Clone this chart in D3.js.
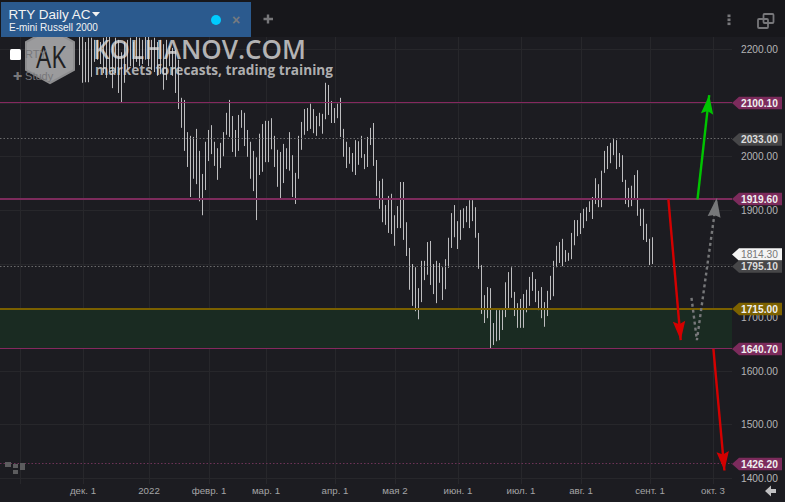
<!DOCTYPE html>
<html><head><meta charset="utf-8">
<script src="https://cdn.jsdelivr.net/npm/d3@7"></script>
<style>html,body{margin:0;padding:0;background:#1c1c21;overflow:hidden}svg{display:block;font-family:"Liberation Sans",Arial,sans-serif}</style>
</head><body><svg id="c" width="785" height="502"></svg>
<script>
const highs=[2235,2235,2213,2221,2221,2217,2217,2213,2221,2224,2228,2208,2221,2217,2194,2213,2217,2221,2213,2224,2221,2217,2228,2224,2217,2221,2213,2217,2209,2217,2206,2202,2198,2180,
2109,2105,2045,2038,2036,2051,2010,1967,2027,2049,2058,2027,2015,2025,2045,2081,2105,2075,2049,2077,2086,2081,2049,2027,2010,1998,2042,2060,2066,2066,2071,2038,2012,2008,2023,2015,2045,2002,1969,2038,2064,2088,2090,2098,2088,2075,2081,2079,2137,2133,2103,2090,2098,2109,2051,2027,2017,2006,2030,2028,2038,2004,2036,2053,2062,1993,
1954,1958,1909,1926,1930,1890,1907,1952,1952,1877,1829,1799,1793,1754,1805,1805,1840,1842,1799,1805,1801,1793,1808,1848,1894,1909,1879,1900,1903,1907,1918,1918,1905,1857,1797,1741,1756,1754,1689,1713,1713,1713,1765,1784,1793,1747,1726,1734,1743,1751,1775,1784,1771,1749,1756,1728,1749,1777,1805,1833,
1840,1846,1825,1820,1857,1881,1881,1894,1902,1905,1916,1924,1959,1948,1973,2010,2019,2025,2032,2030,2006,2002,1956,1941,1945,1965,1974,1902,1902,1874,1846,1849];
const lows=[2170,2137,2138,2138,2148,2176,2180,2172,2155,2146,2157,2127,2155,2118,2101,2137,2161,2168,2165,2176,2168,2172,2180,2168,2161,2157,2150,2153,2124,2142,2168,2150,2118,2088,
2053,2010,1980,1924,1958,1948,1916,1890,1937,1991,2004,1982,1956,1978,2000,2040,2036,2008,1999,2010,2053,2019,1999,1958,1935,1881,1965,1971,1989,1989,2013,1980,1943,1922,1950,1976,1973,1924,1911,1958,2012,2040,2047,2051,2043,2038,2056,2042,2069,2077,2062,2062,2071,2036,1999,1978,1986,1971,1965,1984,1997,1976,1980,2021,1982,1926,
1902,1877,1872,1857,1855,1833,1866,1866,1844,1814,1751,1721,1711,1696,1728,1769,1779,1760,1743,1726,1764,1732,1752,1792,1829,1849,1827,1844,1866,1877,1866,1879,1848,1790,1706,1689,1698,1642,1648,1655,1657,1676,1700,1717,1736,1702,1680,1680,1680,1709,1721,1749,1728,1713,1698,1682,1702,1732,1739,1793,
1801,1795,1803,1805,1808,1834,1851,1855,1866,1879,1896,1883,1911,1905,1905,1969,1976,1987,2002,1976,1980,1952,1911,1905,1907,1920,1889,1870,1844,1840,1797,1799];

const priceTicks=[2200,2100,2000,1900,1800,1700,1600,1500,1400];
const hiddenPriceLabels=[2100,1800];
const dateIdx=[-20,1,23,43,62,85,105,126,147,167,190,211];
const dateLabels=["","дек. 1","2022","февр. 1","мар. 1","апр. 1","мая 2","июн. 1","июл. 1","авг. 1","сент. 1","окт. 3"];

const thinLevels=[2100.1,1640.7];
const thickLevel=1919.6;
const dottedLevels=[2033,1795.1];
const purpleDotted=[1426.2];
const zoneTop=1715, zoneBottom=1640.7;

const flagValues=[2100.1,2033,1919.6,1814.3,1795.1,1715,1640.7,1426.2];
const flagKinds=["p","g","p","w","g","o","p","p"];

const greenArrow=[[206,1919.6],[209.9,2114]];
const redArrowA=[[196.3,1919.6],[200.4,1657]];
const redArrowB=[[211.3,1640.7],[214.97,1414]];
const grayPath=[[204,1736],[205.8,1657],[212.4,1922]];

const W=785,H=502,plotR=732,plotTop=37,plotBot=484;
const svg=d3.select("#c");
const x=d3.scaleLinear().domain([0,1]).range([79.5,82.5]);
const y=d3.scaleLinear().domain([2200,1400]).range([49,478]);
const snap=v=>Math.floor(y(v))+.5;

svg.append("rect").attr("width",W).attr("height",H).attr("fill","#1c1c21");
svg.append("rect").attr("width",W).attr("height",plotTop).attr("fill","#17171b");

// grid
const gGrid=svg.append("g");
gGrid.selectAll("line.h").data(priceTicks).join("line").attr("class","h")
 .attr("x1",0).attr("x2",plotR).attr("y1",d=>Math.round(y(d))+.5).attr("y2",d=>Math.round(y(d))+.5)
 .attr("stroke","#27272b");
gGrid.selectAll("line.v").data(dateIdx).join("line").attr("class","v")
 .attr("x1",d=>Math.round(x(d))+.5).attr("x2",d=>Math.round(x(d))+.5).attr("y1",plotTop).attr("y2",plotBot)
 .attr("stroke","#27272b");

// zone
svg.append("rect").attr("x",0).attr("width",plotR).attr("y",y(zoneTop)).attr("height",y(zoneBottom)-y(zoneTop)).attr("fill","#1a2b22");

// bars
svg.append("g").selectAll("line").data(highs).join("line")
 .attr("x1",(d,i)=>x(i)).attr("x2",(d,i)=>x(i))
 .attr("y1",d=>y(d)).attr("y2",(d,i)=>y(lows[i]))
 .attr("stroke","#bdbdbf").attr("stroke-width",1);

// levels
svg.append("g").selectAll("line").data(thinLevels).join("line")
 .attr("x1",0).attr("x2",plotR).attr("y1",snap).attr("y2",snap)
 .attr("stroke","#85285f").attr("stroke-width",1.2);
svg.append("line").attr("x1",0).attr("x2",plotR).attr("y1",Math.round(y(thickLevel))).attr("y2",Math.round(y(thickLevel))).attr("stroke","#7c2b5c").attr("stroke-width",2);
svg.append("line").attr("x1",0).attr("x2",plotR).attr("y1",Math.round(y(zoneTop))).attr("y2",Math.round(y(zoneTop))).attr("stroke","#7a6000").attr("stroke-width",2);
svg.append("g").selectAll("line").data(dottedLevels).join("line")
 .attr("x1",0).attr("x2",plotR).attr("y1",snap).attr("y2",snap)
 .attr("stroke","#6a6a6c").attr("stroke-dasharray","1.5 2");
svg.append("g").selectAll("line").data(purpleDotted).join("line")
 .attr("x1",0).attr("x2",plotR).attr("y1",snap).attr("y2",snap)
 .attr("stroke","#6e3358").attr("stroke-dasharray","1.5 2");

// axes
const yAxis=d3.axisRight(y).tickValues(priceTicks).tickSize(0).tickPadding(0).tickFormat(d=>hiddenPriceLabels.includes(d)?"":d3.format(".2f")(d));
const gy=svg.append("g").attr("transform","translate(741,0)").call(yAxis);
gy.select(".domain").remove();
gy.selectAll("text").attr("fill","#b4b4b6").attr("font-size",10.2).attr("font-family","Liberation Sans");
const xAxis=d3.axisBottom(x).tickValues(dateIdx).tickSize(0).tickPadding(0).tickFormat(d=>dateLabels[dateIdx.indexOf(d)]);
const gx=svg.append("g").attr("transform","translate(0,487.5)").call(xAxis);
gx.select(".domain").remove();
gx.selectAll("text").attr("fill","#a4a4a6").attr("font-size",9.7).attr("font-family","Liberation Sans");

// arrows
function pts(a){return a.map(p=>[x(p[0]),y(p[1])]);}
function head(a,b,len,hw,notch){
 const dx=b[0]-a[0],dy=b[1]-a[1],L=Math.hypot(dx,dy),ux=dx/L,uy=dy/L,nx=-uy,ny=ux;
 const bx=b[0]-ux*len,by=b[1]-uy*len;
 return [b,[bx+nx*hw,by+ny*hw],[b[0]-ux*(len-notch),b[1]-uy*(len-notch)],[bx-nx*hw,by-ny*hw]].map(p=>p.join(",")).join(" ");
}
const line=d3.line();
function arrow(data,col,w,dash,hl,hw,notch){
 const p=pts(data);
 const path=svg.append("path").attr("d",line(p)).attr("fill","none").attr("stroke",col).attr("stroke-width",w);
 if(dash)path.attr("stroke-dasharray",dash);
 svg.append("polygon").attr("points",head(p[p.length-2],p[p.length-1],hl,hw,notch)).attr("fill",col);
}
arrow(greenArrow,"#00c400",2.4,null,19,6.2,3);
arrow(redArrowA,"#d40000",2.4,null,19,6.2,3);
arrow(redArrowB,"#d40000",2.4,null,19,6.2,3);
arrow(grayPath,"#77787a",2.4,"3 3",19,6.5,2);

// flags
const flagFill={p:"#7c2b5c",g:"#474749",o:"#7d6200",w:"#f4f4f4"};
const flagText={p:"#f0f0f0",g:"#dcdcdc",o:"#f0f0f0",w:"#777"};
const flagShift={p:0,g:.5,o:0,w:-1.5};
const fg=svg.append("g");
flagValues.forEach((v,i)=>{
 const k=flagKinds[i],yy=Math.round(y(v))+flagShift[k];
 fg.append("polygon").attr("points",`732,${yy} 739,${yy-6.3} 782,${yy-6.3} 782,${yy+6.3} 739,${yy+6.3}`).attr("fill",flagFill[k]);
 fg.append("text").attr("x",741).attr("y",yy+3.7).attr("font-size",10.2).attr("font-weight",k==="w"?400:700).attr("fill",flagText[k]).text(v.toFixed(2));
});

// watermark
const hex=[[50,29],[74,42],[74,70],[50,83],[26,70],[26,42]];
svg.append("polygon").attr("points",hex.map(p=>p.join(",")).join(" ")).attr("fill","rgba(205,205,205,.72)").attr("stroke","#8d8d8f").attr("stroke-width",2);
svg.append("text").attr("x",36).attr("y",68).attr("font-size",31).attr("fill","#1f1f22").attr("font-family","Open Sans").attr("textLength",30).attr("lengthAdjust","spacingAndGlyphs").text("AK");
svg.append("text").attr("x",93).attr("y",58.5).attr("font-size",27.5).attr("font-weight",600).attr("font-family","Open Sans").attr("fill","rgba(222,222,222,.78)").attr("textLength",213).attr("lengthAdjust","spacingAndGlyphs").text("KOLHANOV.COM");
svg.append("text").attr("x",95).attr("y",74.5).attr("font-size",14.5).attr("font-weight",700).attr("font-family","Open Sans").attr("fill","rgba(215,215,215,.8)").attr("textLength",238).attr("lengthAdjust","spacingAndGlyphs").text("markets forecasts, trading training");

// legend
svg.append("rect").attr("x",10).attr("y",49).attr("width",11).attr("height",11).attr("rx",1.5).attr("fill","#fff");
svg.append("text").attr("x",25).attr("y",58).attr("font-size",11).attr("fill","#77777a").text("RTY");
svg.append("text").attr("x",13).attr("y",80).attr("font-size",11).attr("fill","#77777a").text("✚ Study");

// header tab
svg.append("rect").attr("x",1).attr("y",2).attr("width",250).attr("height",35).attr("fill","#2b5a8e");
svg.append("text").attr("x",8.5).attr("y",19).attr("font-size",13.5).attr("fill","#f2f2f2").text("RTY Daily AC");
svg.append("polygon").attr("points","92,12 100,12 96,16.5").attr("fill","#f2f2f2");
svg.append("text").attr("x",9).attr("y",31).attr("font-size",10).attr("fill","#f2f2f2").text("E-mini Russell 2000");
svg.append("circle").attr("cx",216).attr("cy",20).attr("r",5).attr("fill","#00ccff");
svg.append("text").attr("x",236).attr("y",24.5).attr("text-anchor","middle").attr("font-size",14).attr("font-weight",700).attr("fill","#757a80").text("×");
const icon="#77777a";
svg.append("path").attr("d","M263.5 19H273M268 14.5V23.5").attr("stroke",icon).attr("stroke-width",2.4).attr("fill","none");
svg.append("g").selectAll("rect").data([14.5,18.5,22.5]).join("rect").attr("x",727.5).attr("y",d=>d).attr("width",3).attr("height",2.6).attr("fill",icon);
svg.append("rect").attr("x",758).attr("y",19).attr("width",10).attr("height",9).attr("rx",1).attr("fill","none").attr("stroke",icon).attr("stroke-width",1.8);
svg.append("rect").attr("x",763.5).attr("y",14).attr("width",10).attr("height",9).attr("rx",1).attr("fill","none").attr("stroke",icon).attr("stroke-width",1.8);

// back arrow
svg.append("path").attr("d","M765,491 L771,485.5 L771,489 L776,489 L776,493 L771,493 L771,496.5 Z").attr("fill","#c0c0c2");
// small mark
svg.append("g").selectAll("rect").data([[5,462,6,5],[13,464,5,4],[13,470,5,4],[20,463,5,7]]).join("rect")
 .attr("x",d=>d[0]).attr("y",d=>d[1]).attr("width",d=>d[2]).attr("height",d=>d[3]).attr("fill","#5c5c5e");
</script></body></html>
